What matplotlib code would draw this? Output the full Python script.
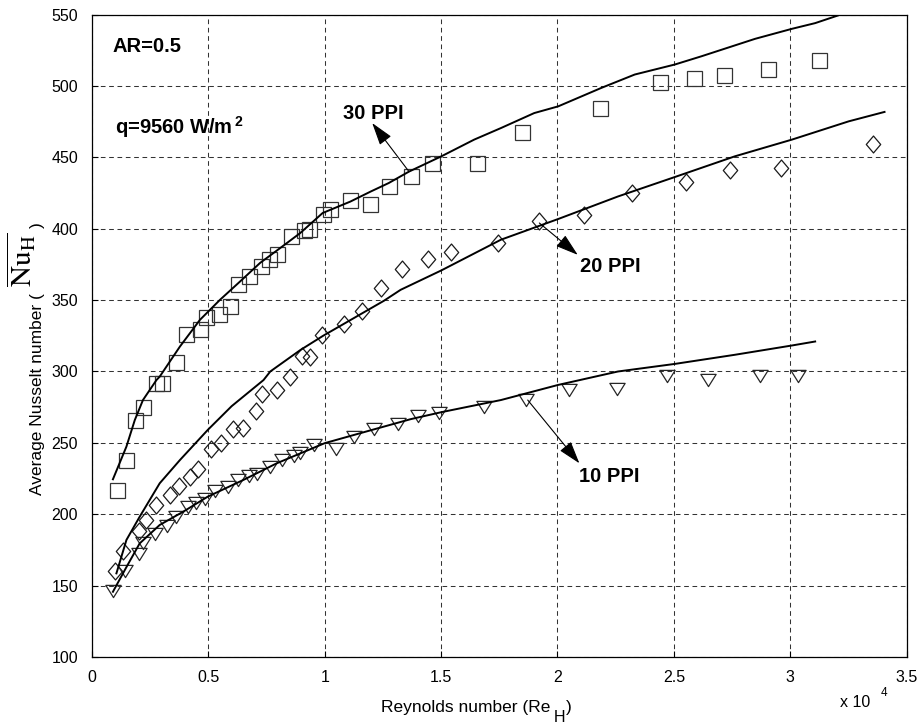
import numpy as np
import matplotlib
matplotlib.use("Agg")
import matplotlib.pyplot as plt
from matplotlib.path import Path

plt.rcParams['font.family'] = ['Liberation Sans', 'DejaVu Sans']
plt.rcParams['mathtext.fontset'] = 'custom'
plt.rcParams['mathtext.rm'] = 'Liberation Sans'
plt.rcParams['mathtext.it'] = 'Liberation Sans:italic'
plt.rcParams['mathtext.bf'] = 'Liberation Sans:bold'

# ---------------- data (Reynolds number in units of 10^4) ----------------
re_30 = [0.109, 0.148, 0.184, 0.219, 0.277, 0.301, 0.359, 0.406, 0.464, 0.490,
         0.546, 0.593, 0.626, 0.675, 0.727, 0.761, 0.797, 0.856, 0.913, 0.934,
         0.991, 1.021, 1.110, 1.194, 1.275, 1.370, 1.459, 1.656, 1.847, 2.184,
         2.439, 2.585, 2.714, 2.903, 3.122]
nu_30 = [217, 238, 266, 275, 292, 292, 306.5, 326, 330, 338.5,
         340, 346, 361, 367, 374, 379, 382, 395, 399, 400,
         410, 414, 420, 417.5, 430, 437, 446, 446, 467.5, 484.6,
         502.8, 505.6, 508, 512, 518]

re_20 = [0.097, 0.133, 0.201, 0.231, 0.277, 0.334, 0.373, 0.421, 0.454, 0.510,
         0.554, 0.607, 0.650, 0.705, 0.732, 0.794, 0.852, 0.902, 0.935, 0.988,
         1.081, 1.161, 1.243, 1.333, 1.445, 1.541, 1.745, 1.922, 2.116, 2.320,
         2.551, 2.741, 2.960, 3.355]
nu_20 = [160, 174, 188.5, 196, 206.5, 213.5, 220, 226.4, 231.5, 246,
         250, 259.6, 260.3, 272, 284.5, 287, 296, 310.5, 310, 325.5,
         333.4, 342.3, 358.4, 371.5, 379, 384, 390, 405.6, 409.3, 425,
         433, 441.3, 442.5, 459.4]

re_10 = [0.091, 0.140, 0.201, 0.219, 0.270, 0.323, 0.363, 0.413, 0.447, 0.485,
         0.528, 0.586, 0.629, 0.676, 0.708, 0.766, 0.816, 0.866, 0.895, 0.955,
         1.048, 1.127, 1.210, 1.315, 1.402, 1.491, 1.685, 1.865, 2.051, 2.256,
         2.471, 2.648, 2.870, 3.033]
nu_10 = [146, 160, 172, 180, 186, 192, 198, 205, 208, 211,
         216, 219, 224, 227, 228, 233, 238, 241, 243, 248.5,
         246, 254.4, 260, 263, 269, 271, 275, 280, 287, 287.6,
         296.5, 294, 296.5, 296.5]

# correlation curves
fit30_re = [0.090, 0.148, 0.184, 0.219, 0.277, 0.291, 0.378, 0.464, 0.550, 0.636,
            0.722, 0.809, 0.895, 0.991, 1.110, 1.197, 1.275, 1.362, 1.501, 1.642,
            1.757, 1.900, 2.003, 2.188, 2.332, 2.504, 2.619, 2.849, 3.007, 3.107, 3.204]
fit30_nu = [224.5, 247.4, 266, 280, 294, 296.4, 317.5, 336.2, 350.2, 363,
            376, 386.5, 397, 411, 419, 426, 432, 440, 450.7, 462.4,
            470.5, 481, 485.7, 498.6, 508, 515, 520.8, 533, 540, 544, 549.3]

fit20_re = [0.105, 0.148, 0.205, 0.291, 0.378, 0.497, 0.600, 0.737, 0.766, 0.895,
            0.993, 1.254, 1.326, 1.501, 1.757, 2.003, 2.260, 2.504, 2.762, 3.007,
            3.251, 3.405]
fit20_nu = [158.6, 182, 198.3, 221.7, 238, 259, 275.7, 294, 300, 315,
            325, 349.5, 357.2, 370.8, 392.3, 406.8, 422.6, 436.2, 450.7, 462.4,
            475.2, 481.8]

fit10_re = [0.090, 0.148, 0.205, 0.291, 0.392, 0.497, 0.650, 0.794, 1.000, 1.153,
            1.369, 1.501, 1.757, 2.003, 2.260, 2.504, 2.762, 3.007, 3.107]
fit10_nu = [145.7, 163, 179.6, 192.5, 201.8, 212.3, 224, 235.7, 249.8, 256.8,
            266.6, 271.5, 280, 290.6, 300, 305.3, 311.7, 318.2, 321]

x_ticks = [0, 0.5, 1, 1.5, 2, 2.5, 3, 3.5]
x_ticklabels = ['0', '0.5', '1', '1.5', '2', '2.5', '3', '3.5']
y_ticks = [100, 150, 200, 250, 300, 350, 400, 450, 500, 550]
y_ticklabels = ['100', '150', '200', '250', '300', '350', '400', '450', '500', '550']

W, H = 917, 724

# ---------------- figure ----------------
fig = plt.figure(figsize=(W / 100, H / 100), dpi=100)
ax = fig.add_axes([0.1003, 0.0925, 0.8884, 0.8874])

ax.set_xlim(0, 3.5)
ax.set_ylim(100, 550)
ax.set_xticks(x_ticks)
ax.set_xticklabels(x_ticklabels)
ax.set_yticks(y_ticks)
ax.set_yticklabels(y_ticklabels)
ax.tick_params(direction='in', length=4, width=0.8, labelsize=11.5)
ax.tick_params(axis='x', pad=9)
ax.tick_params(axis='y', pad=10)
ax.grid(True, color='0.2', linestyle=(0, (4.5, 3.5)), linewidth=0.75)
ax.set_axisbelow(True)
for sp in ax.spines.values():
    sp.set_linewidth(0.9)

diamond = Path([(0, 1), (0.85, 0), (0, -1), (-0.85, 0), (0, 1)],
               [Path.MOVETO, Path.LINETO, Path.LINETO, Path.LINETO, Path.CLOSEPOLY])
tri_down = Path([(-1, 0.8), (1, 0.8), (0, -0.8), (-1, 0.8)],
                [Path.MOVETO, Path.LINETO, Path.LINETO, Path.CLOSEPOLY])

mk = dict(linestyle='none', markerfacecolor='none', markeredgewidth=0.9)
ax.plot(re_30, nu_30, marker='s', markersize=10.8, markeredgecolor='0.2', **mk)
ax.plot(re_20, nu_20, marker=diamond, markersize=12.2, markeredgecolor='0.1', **mk)
ax.plot(re_10, nu_10, marker=tri_down, markersize=11, markeredgecolor='0.15', **mk)

ax.plot(fit30_re, fit30_nu, color='black', linewidth=1.4)
ax.plot(fit20_re, fit20_nu, color='black', linewidth=1.4)
ax.plot(fit10_re, fit10_nu, color='black', linewidth=1.4)

# annotations
bold = dict(fontsize=14.5, fontweight='bold')
ax.text(0.090, 527.6, 'AR=0.5', ha='left', va='center', **bold)
ax.text(0.097, 471.5, r'q=9560 W/m$^{\,\mathbf{2}}$', ha='left', va='center', **bold)

arrow = dict(arrowstyle='-|>,head_length=0.7,head_width=0.22', color='black',
             lw=0.8, shrinkA=0, shrinkB=0, mutation_scale=20)
ax.annotate('', xy=(1.204, 474), xytext=(1.362, 440), arrowprops=arrow)
ax.text(1.207, 481, '30 PPI', ha='center', va='center', **bold)
ax.annotate('', xy=(2.087, 381.7), xytext=(1.922, 404), arrowprops=arrow)
ax.text(2.225, 373.6, '20 PPI', ha='center', va='center', **bold)
ax.annotate('', xy=(2.094, 235.7), xytext=(1.872, 280), arrowprops=arrow)
ax.text(2.222, 226.4, '10 PPI', ha='center', va='center', **bold)

# ---------------- axis labels, composed piecewise ----------------
renderer = fig.canvas.get_renderer()


def px(x, y):
    return x / W, 1 - y / H


# y label (rotated, reads bottom to top)
t1 = fig.text(*px(42, 495), 'Average Nusselt number (', rotation=90,
              rotation_mode='anchor', ha='left', va='baseline', fontsize=12.5)
bb = t1.get_window_extent(renderer)
top1 = H - bb.y1  # pixel y of end of text1
t2 = fig.text(*px(32, top1 - 6), r'$\overline{\mathrm{Nu}_{\mathrm{H}}}$', rotation=90,
              rotation_mode='anchor', ha='left', va='baseline', fontsize=21,
              math_fontfamily='stix')
bb2 = t2.get_window_extent(renderer)
top2 = H - bb2.y1
fig.text(*px(42, top2 - 5), ')', rotation=90, rotation_mode='anchor',
         ha='left', va='baseline', fontsize=12.5)

# x label
x1 = fig.text(*px(381, 711.7), 'Reynolds number (Re', ha='left', va='baseline',
              fontsize=12.5)
bx = x1.get_window_extent(renderer)
x2 = fig.text(*px(bx.x1 + 3, 722), 'H', ha='left', va='baseline', fontsize=11.5)
bx2 = x2.get_window_extent(renderer)
fig.text(*px(bx2.x1 + 1, 711.7), ')', ha='left', va='baseline', fontsize=12.5)

# exponent label
fig.text(840 / W, 1 - 702.5 / H, 'x 10', ha='left', va='center', fontsize=11.5)
fig.text(881 / W, 1 - 693 / H, '4', ha='left', va='center', fontsize=8.5)

fig.savefig('out.png', dpi=100)
